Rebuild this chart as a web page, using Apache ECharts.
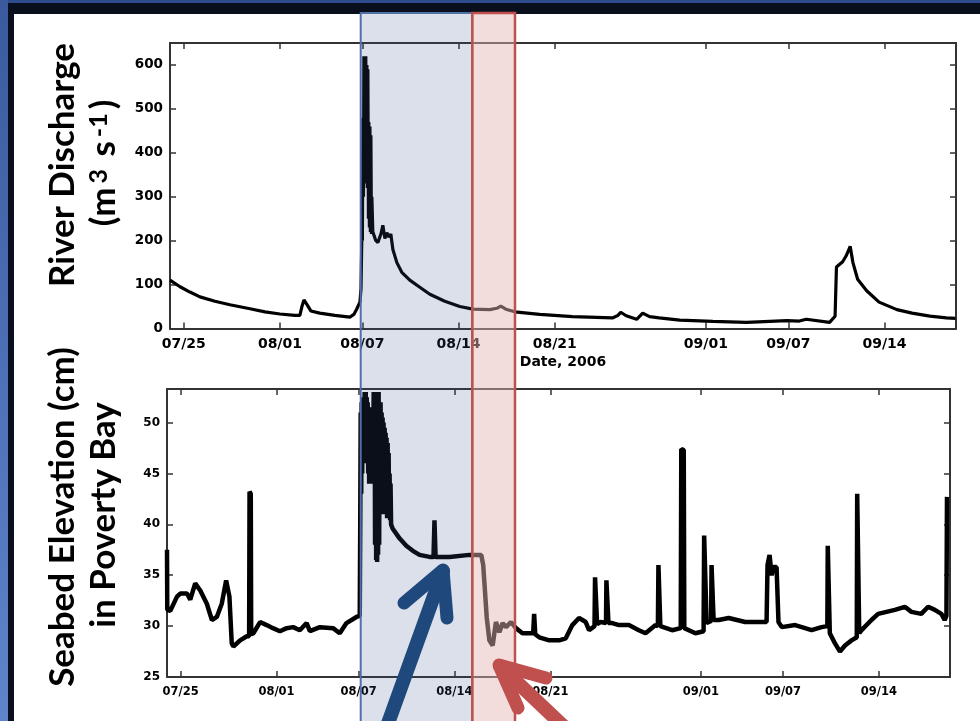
<!DOCTYPE html>
<html><head><meta charset="utf-8">
<script src="https://cdn.jsdelivr.net/npm/echarts@6/dist/echarts.min.js"></script>
<style>html,body{margin:0;padding:0;background:#0a0f1e;overflow:hidden}#c{width:980px;height:721px}</style>
</head><body><div id="c"></div>
<script>
// x values are days since 07/24/2006
const tickDays = [1, 8, 14, 21, 28, 39, 45, 52];
const tickLabels = ['07/25', '08/01', '08/07', '08/14', '08/21', '09/01', '09/07', '09/14'];
const dischargeTicks = [0, 100, 200, 300, 400, 500, 600];
const seabedTicks = [25, 30, 35, 40, 45, 50];

const dischargeDays = [
  0, 0.73, 1.45, 2.18, 3.27, 4.36, 5.82, 6.91, 8.0, 9.09,
  9.45, 9.6, 9.75, 9.96, 10.25, 10.9, 12.0, 13.09, 13.38, 13.6,
  13.82, 13.9, 13.96, 14.0, 14.04, 14.08, 14.11, 14.15, 14.18, 14.22,
  14.25, 14.29, 14.33, 14.36, 14.40, 14.44, 14.47, 14.51, 14.55, 14.58,
  14.62, 14.66, 14.69, 14.76, 14.98, 15.13, 15.35, 15.49, 15.64, 15.78,
  15.93, 16.07, 16.22, 16.51, 16.87, 17.45, 18.18, 18.91, 20.0, 21.09,
  22.04, 23.27, 23.78, 24.07, 24.44, 25.09, 26.9, 29.3, 32.2, 32.6,
  32.8, 33.2, 33.96, 34.4, 34.9, 35.6, 37.1, 39.5, 41.96, 44.9,
  45.8, 46.3, 48.0, 48.4, 48.5, 48.95, 49.2, 49.5, 49.7, 50.04,
  50.7, 51.6, 52.9, 54.0, 55.3, 56.5, 57.16
];
const dischargeValues = [
  110, 95, 83, 72, 62, 54, 45, 38, 33, 30,
  30, 50, 65, 55, 40, 35, 30, 26, 32, 45,
  60, 90, 208, 200, 480, 300, 620, 340, 615, 330,
  620, 330, 600, 320, 590, 250, 470, 230, 460, 220,
  440, 215, 300, 220, 200, 196, 215, 235, 205, 218,
  208, 215, 180, 150, 128, 110, 94, 78, 62, 50,
  44, 43, 46, 51, 44, 38, 32, 27, 24, 30,
  37, 29, 21, 35, 27, 24, 19, 16, 14, 18,
  17, 21, 14, 28, 140, 152, 165, 187, 150, 112,
  86, 60, 43, 35, 28, 24, 23
];

const seabedDays = [
  0, 0.02, 0.24, 0.73, 0.97, 1.46, 1.7, 2.06, 2.43, 2.91,
  3.28, 3.64, 4.0, 4.32, 4.56, 4.73, 4.85, 5.34, 5.83, 6.0,
  6.03, 6.12, 6.15, 6.31, 6.8, 7.28, 7.74, 8.25, 8.74, 9.22,
  9.7, 10.2, 10.44, 11.17, 12.13, 12.62, 13.11, 13.84, 14.08,
  14.12, 14.15, 14.19, 14.22, 14.26, 14.30, 14.33, 14.37, 14.41, 14.44,
  14.48, 14.52, 14.55, 14.59, 14.62, 14.66, 14.70, 14.73, 14.77, 14.81,
  14.84, 14.88, 14.92, 14.95, 14.99, 15.02, 15.06, 15.10, 15.13, 15.17,
  15.20, 15.24, 15.28, 15.31, 15.35, 15.39, 15.42, 15.46, 15.50, 15.53,
  15.57, 15.60, 15.64, 15.68, 15.71, 15.75, 15.79, 15.82, 15.86, 15.90,
  15.93, 15.97, 16.01, 16.04, 16.08, 16.12, 16.15, 16.19, 16.23, 16.26,
  16.30, 16.33, 16.37,
  16.48, 17.0, 17.48, 17.96, 18.45, 19.18, 19.47, 19.54, 19.62, 20.64,
  22.09, 22.96, 23.1, 23.2, 23.36, 23.55, 23.79, 24.03, 24.28, 24.52,
  24.76, 25.13, 25.49, 25.97, 26.46, 26.75, 26.82, 26.9, 27.19, 27.92,
  28.65, 29.13, 29.61, 30.1, 30.59, 30.83, 31.23, 31.27, 31.38, 31.42,
  31.68, 32.07, 32.1, 32.2, 32.25, 32.53, 33.02, 33.74, 34.47, 34.96,
  35.69, 35.86, 35.9, 36.0, 36.04, 36.9, 37.53, 37.57, 37.75, 37.79,
  38.6, 39.2, 39.24, 39.38, 39.42, 39.75, 39.78, 39.9, 39.93, 40.3,
  41.03, 42.24, 43.45, 43.8, 43.87, 44.02, 44.17, 44.31, 44.53, 44.67,
  44.91, 45.89, 47.09, 47.82, 48.24, 48.27, 48.38, 48.42, 48.8, 49.16,
  49.53, 50.01, 50.39, 50.42, 50.53, 50.57, 50.74, 51.46, 51.95, 53.17,
  53.9, 54.38, 55.1, 55.6, 56.09, 56.57, 56.81, 56.94, 56.98
];
const seabedValues = [
  37.5, 31.6, 31.5, 32.9, 33.2, 33.2, 32.6, 34.2, 33.5, 32.2,
  30.6, 30.9, 32.2, 34.5, 32.9, 28.3, 28.0, 28.6, 29.0, 29.0,
  43.2, 43.0, 29.2, 29.3, 30.4, 30.1, 29.8, 29.5, 29.8, 29.9,
  29.6, 30.3, 29.5, 29.9, 29.8, 29.3, 30.3, 30.9, 31.0,
  41, 51, 43, 52, 45, 52.5, 47, 52, 47.5, 53,
  46, 53, 47, 52.5, 46, 52, 45, 51.5, 44, 51,
  44, 51.5, 45, 50, 46, 51, 47, 53, 44, 53,
  38, 53, 36.5, 53, 36.3, 53, 37, 53, 38, 52,
  45, 52, 46, 51, 42, 50.5, 41, 50, 41, 49.5,
  41, 49, 41, 48.5, 40.6, 48, 40.6, 47, 40.6, 45,
  40.4, 44, 40,
  39.6, 38.6, 37.9, 37.4, 37.0, 36.8, 36.8, 40.4, 36.8, 36.8,
  37.0, 37.0, 36.0, 34.0, 30.8, 28.6, 28.1, 30.4, 29.4, 30.3,
  29.9, 30.4, 29.8, 29.3, 29.3, 29.3, 31.2, 29.2, 28.9, 28.6,
  28.6, 28.8, 30.1, 30.8, 30.4, 29.6, 30.0, 34.8, 34.7, 30.2,
  30.4, 30.3, 34.5, 34.5, 30.3, 30.3, 30.1, 30.1, 29.6, 29.3,
  30.1, 30.0, 36.0, 36.0, 30.0, 29.6, 29.8, 47.4, 47.3, 29.8,
  29.3, 29.5, 38.9, 38.9, 30.3, 30.5, 36.0, 36.0, 30.6, 30.6,
  30.8, 30.4, 30.4, 30.4, 36.0, 37.0, 35.0, 35.8, 35.8, 30.4,
  29.9, 30.1, 29.6, 29.9, 30.0, 37.9, 37.9, 29.3, 28.3, 27.5,
  28.1, 28.6, 28.9, 43.0, 43.0, 29.3, 29.6, 30.6, 31.2, 31.6,
  31.9, 31.4, 31.2, 31.9, 31.6, 31.2, 30.6, 31.0, 42.7
];

const chart = echarts.init(document.getElementById('c'), null, {renderer: 'canvas'});
const AX = '#333';
const LBL = 'DejaVu Sans';
function dateFmt(v) {
  const i = tickDays.findIndex(d => Math.abs(d - v) < 1e-6);
  return i >= 0 ? tickLabels[i] : '';
}
function xAxisCfg(grid, pos, showLabel, fs, name) {
  const a = {
    gridIndex: grid, type: 'value', min: 0, max: 57.2, position: pos,
    axisLine: {show: true, onZero: false, lineStyle: {color: AX, width: 2}},
    axisTick: {show: true, inside: true, length: 6, customValues: tickDays, lineStyle: {color: AX, width: 1.5}},
    axisLabel: {show: showLabel, customValues: tickDays, formatter: dateFmt, color: '#000', fontFamily: LBL, fontWeight: 'bold', fontSize: fs, margin: 9},
    splitLine: {show: false}
  };
  if (name) {
    a.name = name; a.nameLocation = 'middle'; a.nameGap = 27;
    a.nameTextStyle = {color: '#000', fontFamily: LBL, fontWeight: 'bold', fontSize: 14};
  }
  return a;
}
function yAxisCfg(grid, pos, showLabel, min, max, ticks, fs) {
  return {
    gridIndex: grid, type: 'value', min: min, max: max, position: pos,
    axisLine: {show: true, onZero: false, lineStyle: {color: AX, width: 2}},
    axisTick: {show: true, inside: true, length: 6, customValues: ticks, lineStyle: {color: AX, width: 1.5}},
    axisLabel: {show: showLabel, customValues: ticks, color: '#000', fontFamily: LBL, fontWeight: 'bold', fontSize: fs, margin: 7},
    splitLine: {show: false}
  };
}

const titleFont = 'Lato';
const TF = 'bold 35px ' + titleFont;
const option = {
  animation: false,
  backgroundColor: '#0a0f1e',
  grid: [
    {left: 170, right: 24, top: 43, height: 285.5, outerBoundsMode: 'none'},
    {left: 167, right: 30, top: 389, height: 288, outerBoundsMode: 'none'}
  ],
  xAxis: [
    xAxisCfg(0, 'bottom', true, 14, 'Date, 2006'),
    xAxisCfg(0, 'top', false, 14),
    xAxisCfg(1, 'bottom', true, 11.5),
    xAxisCfg(1, 'top', false, 11.5)
  ],
  yAxis: [
    yAxisCfg(0, 'left', true, 0, 650, dischargeTicks, 13.5),
    yAxisCfg(0, 'right', false, 0, 650, dischargeTicks, 13.5),
    yAxisCfg(1, 'left', true, 25, 53.3, seabedTicks, 12),
    yAxisCfg(1, 'right', false, 25, 53.3, seabedTicks, 12)
  ],
  series: [
    {type: 'line', xAxisIndex: 0, yAxisIndex: 0, showSymbol: false, symbol: 'none',
     lineStyle: {color: '#000', width: 3.2}, data: dischargeDays.map((d, i) => [d, dischargeValues[i]])},
    {type: 'line', xAxisIndex: 2, yAxisIndex: 2, showSymbol: false, symbol: 'none',
     lineStyle: {color: '#000', width: 4.5}, data: seabedDays.map((d, i) => [d, seabedValues[i]])}
  ],
  graphic: [
    // slide frame
    {type: 'rect', z: -20, shape: {x: 14, y: 14, width: 966, height: 707}, style: {fill: '#ffffff'}},
    {type: 'rect', z: -19, shape: {x: 0, y: 0, width: 980, height: 3}, style: {fill: '#2f4d8c'}},
    {type: 'rect', z: -19, shape: {x: 0, y: 0, width: 8, height: 721},
     style: {fill: new echarts.graphic.LinearGradient(0, 0, 0, 1, [{offset: 0, color: '#3b5a9e'}, {offset: 1, color: '#5f84cc'}])}},
    // axis titles
    {type: 'text', z: 50, x: 63, y: 165, rotation: Math.PI / 2,
     style: {text: 'River Discharge', font: TF, fill: '#000', align: 'center', verticalAlign: 'middle'}},
    {type: 'text', z: 50, x: 104, y: 163, rotation: Math.PI / 2,
     style: {text: '(m{sup|3} s{sup|-1})', font: TF, fill: '#000', align: 'center', verticalAlign: 'middle',
             rich: {sup: {fontSize: 25, fontFamily: titleFont, fontWeight: 'bold', verticalAlign: 'top', fill: '#000', padding: [0, 4, 0, 4]}}}},
    {type: 'text', z: 50, x: 63, y: 517, rotation: Math.PI / 2,
     style: {text: 'Seabed Elevation (cm)', font: TF, fill: '#000', align: 'center', verticalAlign: 'middle'}},
    {type: 'text', z: 50, x: 104, y: 515, rotation: Math.PI / 2,
     style: {text: 'in Poverty Bay', font: TF, fill: '#000', align: 'center', verticalAlign: 'middle'}},
    // highlighted periods (slide overlays)
    {type: 'rect', z: 100, shape: {x: 360.7, y: 13, width: 111.6, height: 730},
     style: {fill: 'rgba(55,83,139,0.18)', stroke: '#4f71a6', lineWidth: 2}},
    {type: 'rect', z: 101, shape: {x: 472.3, y: 13, width: 42.7, height: 730},
     style: {fill: 'rgba(228,181,181,0.47)', stroke: '#c0504d', lineWidth: 2.5}},
    // arrows
    {type: 'polyline', z: 110, shape: {points: [[382, 740], [443, 571]]},
     style: {stroke: '#1f497d', lineWidth: 14, lineCap: 'round', fill: null}},
    {type: 'polyline', z: 110, shape: {points: [[404, 603], [443, 570], [447, 618]]},
     style: {stroke: '#1f497d', lineWidth: 13, lineCap: 'round', lineJoin: 'round', fill: null}},
    {type: 'polyline', z: 110, shape: {points: [[578, 740], [500, 666]]},
     style: {stroke: '#c0504d', lineWidth: 14, lineCap: 'round', fill: null}},
    {type: 'polyline', z: 110, shape: {points: [[546, 678], [499, 665], [518, 708]]},
     style: {stroke: '#c0504d', lineWidth: 13, lineCap: 'round', lineJoin: 'round', fill: null}}
  ]
};
chart.setOption(option);
</script>
</body></html>
